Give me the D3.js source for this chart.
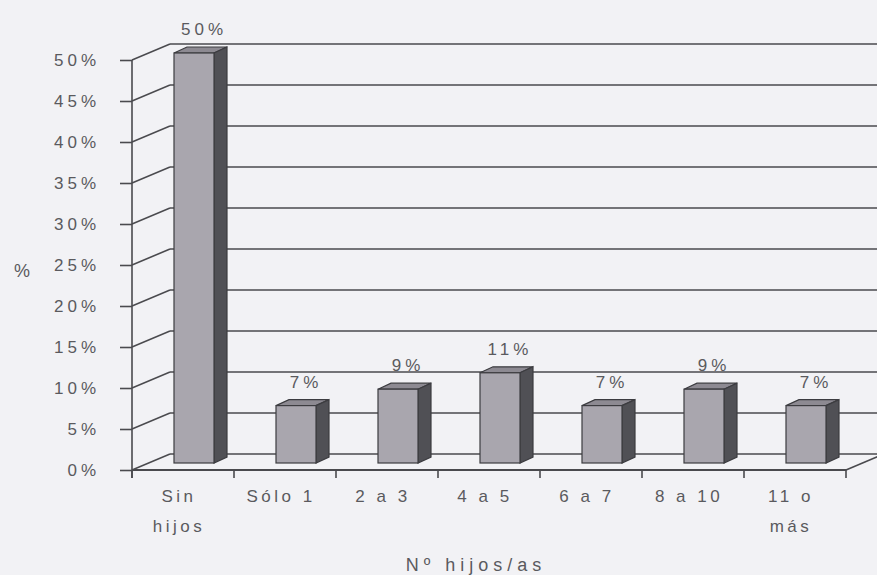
<!doctype html>
<html lang="es">
<head>
<meta charset="utf-8">
<title>Nº hijos/as</title>
<script src="https://cdn.jsdelivr.net/npm/d3@7/dist/d3.min.js"></script>
<style>
	body { margin:0; background:#f2f2f5; }
	svg text { font-family:"Liberation Sans", Arial, sans-serif; fill:#5a5a5e; }
</style>
</head>
<body>
<svg id="chart" width="877" height="575"></svg>
<script>
// data
var categories = ["Sin hijos", "Sólo 1", "2 a 3", "4 a 5", "6 a 7", "8 a 10", "11 o más"];
var catLines = [["Sin", "hijos"], ["Sólo 1"], ["2 a 3"], ["4 a 5"], ["6 a 7"], ["8 a 10"], ["11 o", "más"]];
var values = [50, 7, 9, 11, 7, 9, 7];
var yTicks = [0, 5, 10, 15, 20, 25, 30, 35, 40, 45, 50];

var svg = d3.select("#chart");
var lineCol = "#4a4a4e";
// depth of the 3d box and of the bars
var dx = 38, dy = -16;
var bx = 11, by = -7, bdx = 13, bdy = -6, barW = 40;

var x = d3.scaleBand().domain(categories).range([132, 846]);
var y = d3.scaleLinear().domain([0, 50]).range([470, 60]);

// back wall gridlines + left wall diagonals
var grid = svg.append("g");
yTicks.forEach(function(t) {
	grid.append("line")
		.attr("x1", 132).attr("y1", y(t)).attr("x2", 132 + dx).attr("y2", y(t) + dy)
		.attr("stroke", lineCol).attr("stroke-width", 1.6);
	grid.append("line")
		.attr("x1", 132 + dx).attr("y1", y(t) + dy).attr("x2", 846 + dx).attr("y2", y(t) + dy)
		.attr("stroke", lineCol).attr("stroke-width", 1.6);
});
// floor right edge
grid.append("line")
	.attr("x1", 846).attr("y1", y(0)).attr("x2", 846 + dx).attr("y2", y(0) + dy)
	.attr("stroke", lineCol).attr("stroke-width", 1.6);

// y axis
var yAxis = d3.axisLeft(y).tickValues(yTicks).tickFormat(function(d) { return d + "%"; })
	.tickSize(12).tickPadding(20);
var yg = svg.append("g").attr("transform", "translate(132,0)").call(yAxis);
yg.select(".domain").attr("stroke", lineCol).attr("stroke-width", 1.6)
	.attr("d", "M0," + y(50) + "V" + (y(0) + 8));
yg.selectAll(".tick line").attr("stroke", lineCol).attr("stroke-width", 1.6);
yg.selectAll(".tick text").style("font-size", "17px").style("letter-spacing", "4px")
	.attr("fill", "#5a5a5e").style("font-family", "'Liberation Sans', Arial, sans-serif");

// x axis (front floor edge)
var xg = svg.append("g");
xg.append("line").attr("x1", 132).attr("y1", y(0)).attr("x2", 846).attr("y2", y(0))
	.attr("stroke", lineCol).attr("stroke-width", 1.8);
var bounds = categories.map(function(c) { return x(c); }).concat([x.range()[1]]);
xg.selectAll(".xt").data(bounds).enter().append("line")
	.attr("x1", function(d) { return d; }).attr("x2", function(d) { return d; })
	.attr("y1", y(0)).attr("y2", y(0) + 8)
	.attr("stroke", lineCol).attr("stroke-width", 1.6);

// bars
var bars = svg.append("g").selectAll("g").data(values).enter().append("g");
function fx(d, i) { return x(categories[i]) + (x.bandwidth() - barW) / 2 + bx; }
bars.append("path") // top
	.attr("d", function(d, i) {
		var x0 = fx(d, i), yt = y(d) + by;
		return "M" + x0 + "," + yt + "L" + (x0 + bdx) + "," + (yt + bdy) + "L" + (x0 + barW + bdx) + "," + (yt + bdy) + "L" + (x0 + barW) + "," + yt + "Z";
	})
	.attr("fill", "#8d8a92").attr("stroke", "#3c3c40").attr("stroke-width", 1.2);
bars.append("path") // side
	.attr("d", function(d, i) {
		var x0 = fx(d, i) + barW, yt = y(d) + by, yb = y(0) + by;
		return "M" + x0 + "," + yt + "L" + (x0 + bdx) + "," + (yt + bdy) + "L" + (x0 + bdx) + "," + (yb + bdy) + "L" + x0 + "," + yb + "Z";
	})
	.attr("fill", "#505055").attr("stroke", "#3c3c40").attr("stroke-width", 1.2);
bars.append("rect") // front
	.attr("x", fx)
	.attr("y", function(d) { return y(d) + by; })
	.attr("width", barW)
	.attr("height", function(d) { return y(0) - y(d); })
	.attr("fill", "#a9a6ae").attr("stroke", "#3c3c40").attr("stroke-width", 1.2);

// value labels
bars.append("text")
	.attr("x", function(d, i) { return fx(d, i) + barW / 2 + 10; })
	.attr("y", function(d) { return y(d) + by + bdy - 12; })
	.attr("text-anchor", "middle")
	.style("font-size", "17px").style("letter-spacing", "4px")
	.text(function(d) { return d + "%"; });

// category labels
var cl = svg.append("g").selectAll("text").data(catLines).enter().append("text")
	.attr("text-anchor", "middle")
	.attr("transform", function(d, i) { return "translate(" + (x(categories[i]) + x.bandwidth() / 2 - 4) + ",502)"; })
	.style("font-size", "17px").style("letter-spacing", "3.5px");
cl.selectAll("tspan").data(function(d) { return d; }).enter().append("tspan")
	.attr("x", 0).attr("dy", function(d, j) { return j ? 30 : 0; })
	.text(function(d) { return d; });

// axis titles
svg.append("text").attr("x", 22).attr("y", 277).attr("text-anchor", "middle")
	.style("font-size", "18px").text("%");
svg.append("text").attr("x", 476).attr("y", 571).attr("text-anchor", "middle")
	.style("font-size", "18px").style("letter-spacing", "5px").text("Nº hijos/as");
</script>
</body>
</html>
